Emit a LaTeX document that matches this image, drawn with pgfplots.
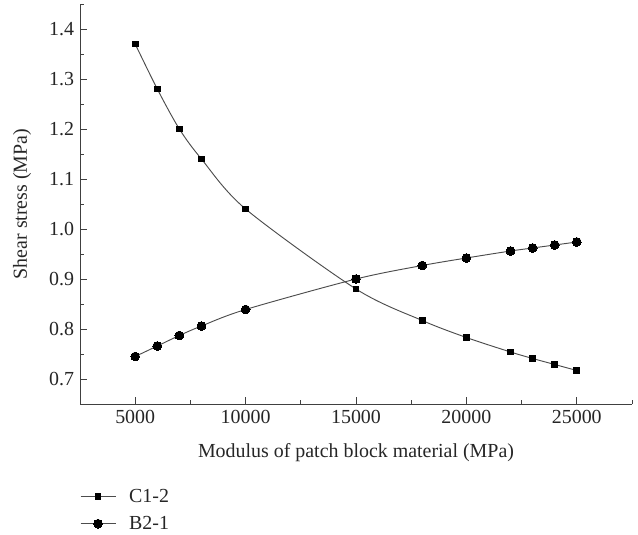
\documentclass[border=0pt]{standalone}
\usepackage{pgfplots}
\pgfplotsset{compat=1.18}
\usepackage{fontspec}
\setmainfont{Liberation Serif}

\begin{document}
\begin{tikzpicture}
\useasboundingbox (-60bp,-98.25bp) rectangle (418.5bp,303bp);
\begin{axis}[
    at={(0,0)}, anchor=south west,
    scale only axis,
    width=414bp, height=300bp,
    xmin=2500, xmax=27500,
    ymin=0.65, ymax=1.45,
    axis x line*=bottom,
    axis y line*=left,
    axis line style={black!75, line width=0.6pt},
    tick align=inside,
    tick style={black!75, line width=0.6pt},
    major tick length=5bp,
    minor tick length=3bp,
    xtick={5000,10000,15000,20000,25000},
    minor xtick={2500,7500,12500,17500,22500,27500},
    ytick={0.7,0.8,0.9,1.0,1.1,1.2,1.3,1.4},
    minor ytick={0.65,0.75,0.85,0.95,1.05,1.15,1.25,1.35,1.45},
    scaled x ticks=false,
    /pgf/number format/assume math mode=true,
    xticklabel style={/pgf/number format/1000 sep={}, yshift=-1bp},
    yticklabel style={/pgf/number format/fixed, /pgf/number format/fixed zerofill,
        /pgf/number format/precision=1, xshift=-1bp},
    tick label style={font=\fontsize{15}{17}\selectfont, text=black!85},
    xlabel={Modulus of patch block material (MPa)},
    ylabel={Shear stress (MPa)},
    every axis x label/.style={at={(axis description cs:0.5,-0.1225)}, anchor=center,
        font=\fontsize{15}{17}\selectfont, text=black!85},
    every axis y label/.style={at={(axis description cs:-0.105,0.5)}, rotate=90, anchor=center,
        font=\fontsize{15}{17}\selectfont, text=black!85},
    legend image code/.code={\draw[mark repeat=2, mark phase=2, #1]
        plot coordinates {(0bp,0bp) (13bp,0bp) (26bp,0bp)};},
    legend style={draw=none, fill=none, at={(axis description cs:0,-0.205)}, anchor=north west,
        font=\fontsize{15}{17}\selectfont, text=black!85, row sep=5bp, inner sep=0pt},
    legend cell align=left,
    clip=false,
]
\addplot[black!70, line width=0.7pt, smooth, mark=square*, mark size=2.2bp,
    mark options={black, fill=black, line width=0pt}] coordinates {
    (5000,1.370) (6000,1.280) (7000,1.200) (8000,1.140) (10000,1.040)
    (15000,0.880) (18000,0.817) (20000,0.783) (22000,0.754)
    (23000,0.741) (24000,0.729) (25000,0.717)
};
\addlegendentry{\hspace{8bp}C1-2}
\addplot[black!70, line width=0.7pt, smooth, mark=*, mark size=3.3bp,
    mark options={black, fill=black, line width=0pt}] coordinates {
    (5000,0.745) (6000,0.766) (7000,0.787) (8000,0.806) (10000,0.839)
    (15000,0.900) (18000,0.927) (20000,0.942) (22000,0.956)
    (23000,0.962) (24000,0.968) (25000,0.974)
};
\addlegendentry{\hspace{8bp}B2-1}
\end{axis}
\end{tikzpicture}
\end{document}
